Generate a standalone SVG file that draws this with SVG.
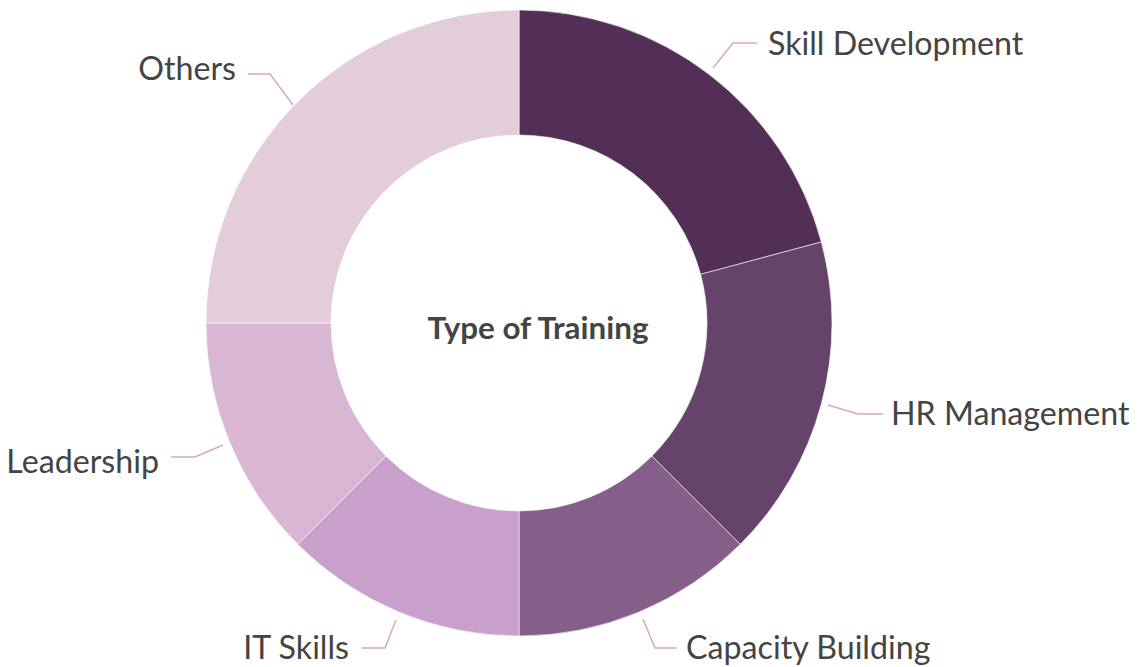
<svg xmlns="http://www.w3.org/2000/svg" width="1145" height="667" viewBox="0 0 1145 667">
<style>
.seg{stroke:#ffffff;stroke-width:0.6}
.lbl{font-family:Lato,"Liberation Sans",sans-serif;font-size:32.2px;fill:#444444}
.title{font-family:Lato,"Liberation Sans",sans-serif;font-size:31.4px;font-weight:bold;fill:#444444}
.lead{fill:none;stroke:#d6a9bb;stroke-width:1.5}
</style>
<rect width="1145" height="667" fill="#ffffff"/>
<g id="skill-development">
<path class="seg" fill="#532f58" d="M519,10 A313,313 0 0 1 821.34,241.99 L700.59,274.34 A188,188 0 0 0 519,135 Z"/>
<text class="lbl" x="768" y="55">Skill Development</text>
</g>
<g id="hr-management">
<path class="seg" fill="#66436a" d="M821.34,241.99 A313,313 0 0 1 740.32,544.32 L651.94,455.94 A188,188 0 0 0 700.59,274.34 Z"/>
<text class="lbl" x="891" y="425">HR Management</text>
</g>
<g id="capacity-building">
<path class="seg" fill="#855f89" d="M740.32,544.32 A313,313 0 0 1 519,636 L519,511 A188,188 0 0 0 651.94,455.94 Z"/>
<text class="lbl" x="686" y="659">Capacity Building</text>
</g>
<g id="it-skills">
<path class="seg" fill="#c9a0cb" d="M519,636 A313,313 0 0 1 297.68,544.32 L386.06,455.94 A188,188 0 0 0 519,511 Z"/>
<text class="lbl" x="349" y="659" text-anchor="end">IT Skills</text>
</g>
<g id="leadership">
<path class="seg" fill="#d8b6d4" d="M297.68,544.32 A313,313 0 0 1 206,323 L331,323 A188,188 0 0 0 386.06,455.94 Z"/>
<text class="lbl" x="159" y="473" text-anchor="end">Leadership</text>
</g>
<g id="others">
<path class="seg" fill="#e4cddb" d="M206,323 A313,313 0 0 1 519,10 L519,135 A188,188 0 0 0 331,323 Z"/>
<text class="lbl" x="236" y="80" text-anchor="end">Others</text>
</g>
<g id="center-title">
<text class="title" x="538" y="339" text-anchor="middle">Type of Training</text>
</g>
<g id="connectors">
<polyline class="lead" points="713,68 733,43 757,43"/>
<polyline class="lead" points="828,405 858,414 883,414"/>
<polyline class="lead" points="643,619 655,648 677,648"/>
<polyline class="lead" points="396,620 385,648 362,648"/>
<polyline class="lead" points="223,445 195,457 171,457"/>
<polyline class="lead" points="293,105 270,74 248,74"/>
</g>
</svg>
